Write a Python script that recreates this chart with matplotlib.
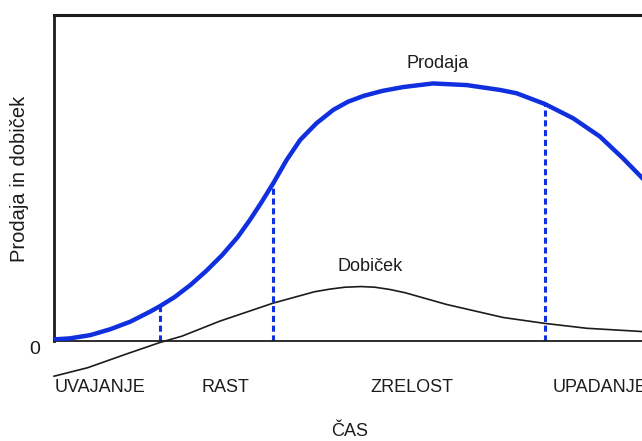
"""Product life cycle: sales and profit over time, split into four stages."""

import matplotlib

matplotlib.use("Agg")
import matplotlib.pyplot as plt

plt.rcParams["font.family"] = ["Liberation Sans", "DejaVu Sans"]

# time axis (arbitrary units) and the two curves
sales_t = [0.0, 0.30, 0.69, 1.07, 1.45, 1.83, 2.02, 2.30, 2.60, 2.90, 3.20,
           3.50, 3.73, 3.95, 4.18, 4.43, 4.69, 5.00, 5.32, 5.60, 5.90, 6.25,
           6.65, 7.22, 7.86, 8.50, 8.81, 9.35, 9.89, 10.40, 10.84, 11.18, 11.54]
sales = [0.05, 0.08, 0.18, 0.36, 0.59, 0.90, 1.07, 1.35, 1.72, 2.15, 2.63,
         3.19, 3.71, 4.25, 4.85, 5.55, 6.17, 6.68, 7.09, 7.34, 7.52, 7.67,
         7.79, 7.90, 7.85, 7.70, 7.60, 7.27, 6.83, 6.27, 5.60, 5.04, 4.42]

profit_t = [0.0, 0.64, 1.36, 2.01, 2.44, 3.16, 4.17, 4.96, 5.25, 5.54, 5.85,
            6.11, 6.40, 6.69, 7.48, 8.56, 9.35, 10.15, 11.21, 11.6]
profit = [-1.08, -0.82, -0.41, -0.05, 0.15, 0.61, 1.16, 1.51, 1.59, 1.65, 1.67,
          1.65, 1.58, 1.48, 1.12, 0.72, 0.54, 0.39, 0.29, 0.27]

# indices into sales_t where one stage ends and the next begins
stage_ends = [6, 14, 27]
stages = ["UVAJANJE", "RAST", "ZRELOST", "UPADANJE"]
stage_x = [0.88, 3.26, 6.82, 9.5]

BLUE = "#1030e0"
INK = "#1c1c1c"

fig = plt.figure(figsize=(6.42, 4.41), dpi=100)
W, H = 642, 441
left, right, top, zero = 54, 660, 15, 341
ax = fig.add_axes([left / W, 1 - zero / H, (right - left) / W, (zero - top) / H])
ax.set_xlim(0, (right - left) / 52.5)
ax.set_ylim(0, 10)

ax.plot(sales_t, sales, color=BLUE, lw=3.2, solid_capstyle="round",
        solid_joinstyle="round", zorder=3)
ax.plot(profit_t, profit, color=INK, lw=1.2, clip_on=False,
        solid_joinstyle="round", zorder=2)

for i in stage_ends:
    ax.plot([sales_t[i], sales_t[i]], [0, sales[i]], color=BLUE, lw=2.2,
            dashes=(2.0, 1.2), zorder=2)

ax.spines["right"].set_visible(False)
ax.spines["left"].set_linewidth(2.0)
ax.spines["top"].set_linewidth(2.2)
ax.spines["bottom"].set_linewidth(1.3)
for sp in ax.spines.values():
    sp.set_color(INK)
ax.set_xticks([])
ax.set_yticks([])

fs = 13
for name, x in zip(stages, stage_x):
    ax.text(x, -1.44, name, ha="left" if name == "UPADANJE" else "center",
            va="center", fontsize=fs, color=INK, clip_on=False)
ax.text(5.64, -2.79, "ČAS", ha="center", va="center", fontsize=fs, color=INK)
ax.text(-0.36, -0.27, "0", ha="center", va="center", fontsize=fs + 1, color=INK)
ax.text(7.3, 8.5, "Prodaja", ha="center", va="center", fontsize=fs, color=INK)
ax.text(6.02, 2.27, "Dobiček", ha="center", va="center", fontsize=fs, color=INK)
fig.text(20 / W, 1 - 179 / H, "Prodaja in dobiček", rotation=90,
         ha="center", va="center", fontsize=14.5, color=INK)

fig.savefig("out.png", dpi=100)
